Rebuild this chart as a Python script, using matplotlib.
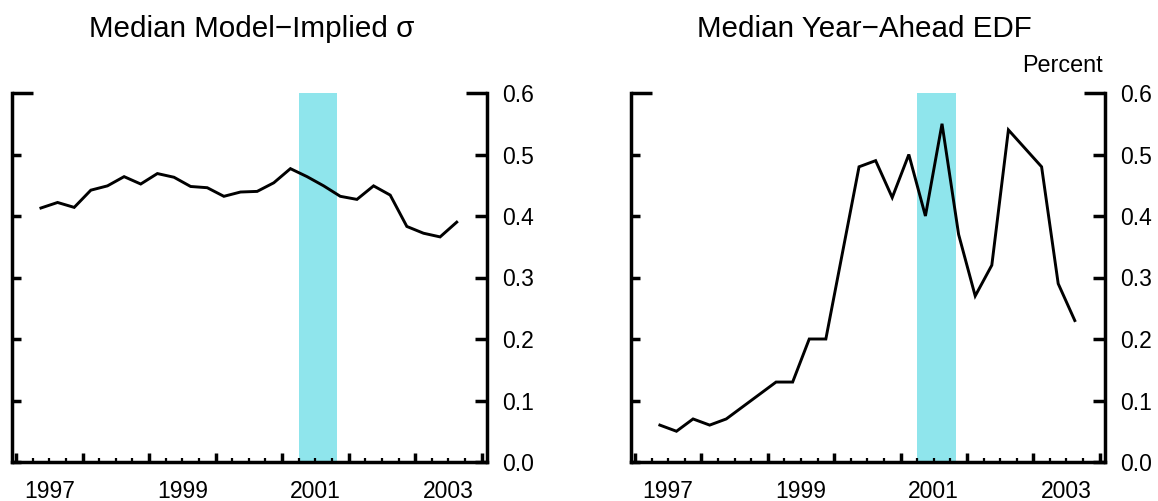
import matplotlib
matplotlib.use("Agg")
import matplotlib.pyplot as plt
from matplotlib.ticker import FixedLocator, FuncFormatter

plt.rcParams['font.family'] = ['Liberation Sans', 'DejaVu Sans']

# quarterly observations, 1997Q2 .. 2003Q3
quarters = ['1997Q2', '1997Q3', '1997Q4', '1998Q1', '1998Q2', '1998Q3', '1998Q4',
            '1999Q1', '1999Q2', '1999Q3', '1999Q4', '2000Q1', '2000Q2', '2000Q3',
            '2000Q4', '2001Q1', '2001Q2', '2001Q3', '2001Q4', '2002Q1', '2002Q2',
            '2002Q3', '2002Q4', '2003Q1', '2003Q2', '2003Q3']
sigma = [0.413, 0.422, 0.414, 0.442, 0.449, 0.464, 0.452, 0.469, 0.463, 0.448,
         0.446, 0.432, 0.439, 0.440, 0.454, 0.477, 0.464, 0.449, 0.432, 0.427,
         0.449, 0.434, 0.383, 0.372, 0.366, 0.390]
edf = [0.06, 0.05, 0.07, 0.06, 0.07, 0.09, 0.11, 0.13, 0.13, 0.20,
       0.20, 0.34, 0.48, 0.49, 0.43, 0.50, 0.40, 0.55, 0.37, 0.27,
       0.32, 0.54, 0.51, 0.48, 0.29, 0.23]
recession = (2001.25, 2001.83)
titles = ['Median Model\u2212Implied \u03c3', 'Median Year\u2212Ahead EDF']
year_labels = [1997, 1999, 2001, 2003]
y_ticks = [0.0, 0.1, 0.2, 0.3, 0.4, 0.5]


def qtr_to_year(q):
    # middle of the quarter
    return int(q[:4]) + (int(q[5]) - 1) * 0.25 + 0.125


x = [qtr_to_year(q) for q in quarters]

W, H = 1158, 501
fig = plt.figure(figsize=(W / 100, H / 100), dpi=100)
px = 0.72  # one pixel in points at dpi 100
shade = '#8FE5EC'

axes = [fig.add_axes([12 / W, (H - 462) / H, 475 / W, 369 / H]),
        fig.add_axes([631 / W, (H - 462) / H, 474 / W, 369 / H])]

for ax, series in zip(axes, [sigma, edf]):
    ax.axvspan(recession[0], recession[1], color=shade, lw=0, zorder=1)
    ax.plot(x, series, color='black', lw=2.1, solid_joinstyle='miter', zorder=3)
    ax.set_xlim(1996.94, 2004.08)
    ax.set_ylim(0, 0.6)

    ax.spines['top'].set_visible(False)
    for s in ['left', 'right', 'bottom']:
        ax.spines[s].set_linewidth(2.5)

    # x axis: year ticks, quarter minor ticks, labels mid-year
    ax.xaxis.set_major_locator(FixedLocator(list(range(1997, 2005))))
    ax.xaxis.set_major_formatter(FuncFormatter(lambda v, p: ''))
    minors = [yr + q for yr in range(1997, 2004) for q in (0.25, 0.5, 0.75)]
    ax.xaxis.set_minor_locator(FixedLocator(minors))
    ax.xaxis.set_minor_formatter(FuncFormatter(
        lambda v, p: str(int(v)) if int(v) in year_labels and abs(v % 1 - 0.5) < 1e-6 else ''))
    ax.tick_params(axis='x', which='major', direction='in', length=9 * px, width=2.5,
                   bottom=True, top=False)
    ax.tick_params(axis='x', which='minor', direction='in', length=4.5 * px, width=1.6,
                   bottom=True, top=False, labelsize=16.5, pad=13)

    # y axis: ticks both sides, labels on the right, longer stub at 0.6
    ax.yaxis.set_major_locator(FixedLocator(y_ticks))
    ax.yaxis.set_major_formatter(FuncFormatter(lambda v, p: f'{v:.1f}'))
    ax.yaxis.set_minor_locator(FixedLocator([0.6]))
    ax.yaxis.set_minor_formatter(FuncFormatter(lambda v, p: f'{v:.1f}'))
    ax.tick_params(axis='y', which='both', direction='in', left=True, right=True,
                   labelleft=False, labelright=True, labelsize=16.5, pad=11)
    ax.tick_params(axis='y', which='major', length=10 * px, width=2.5)
    ax.tick_params(axis='y', which='minor', length=21 * px, width=2.5)
    for t in ax.yaxis.get_major_ticks():
        t.tick1line.set_markersize(9 * px)
        t.tick2line.set_markersize(12 * px)

fig.text(252 / W, 1 - 37 / H, titles[0], ha='center', va='baseline', fontsize=21.3)
fig.text(864 / W, 1 - 37 / H, titles[1], ha='center', va='baseline', fontsize=21.3)
fig.text(1103 / W, 1 - 72 / H, 'Percent', ha='right', va='baseline', fontsize=16.8)

fig.savefig('out.png', dpi=100)
